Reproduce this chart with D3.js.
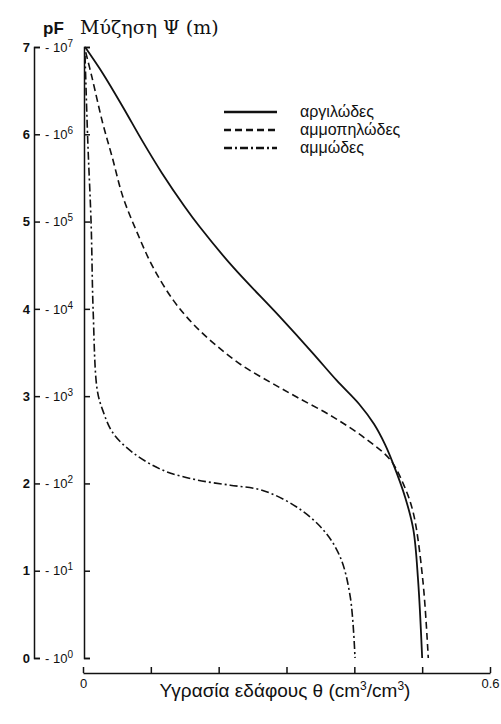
<!DOCTYPE html>
<html>
<head>
<meta charset="utf-8">
<script src="https://cdn.jsdelivr.net/npm/d3@7"></script>
<style>
  body { margin: 0; background: #fff; }
  svg { display: block; }
  .axis path, .axis line { stroke: #111; stroke-width: 1.5; }
  .axis text { font-family: "Liberation Sans", Arial, sans-serif; font-size: 13px; fill: #111; }
  .curve { fill: none; stroke: #111; }
</style>
</head>
<body>
<svg id="chart" width="501" height="724"></svg>
<script>
// [θ (cm3/cm3), pF]
const clay = [
  [0.003, 7.00], [0.029, 6.70], [0.059, 6.31], [0.087, 5.93], [0.116, 5.56],
  [0.150, 5.17], [0.172, 4.94], [0.221, 4.48], [0.290, 3.91], [0.339, 3.49],
  [0.374, 3.18], [0.407, 2.91], [0.429, 2.68], [0.445, 2.45], [0.457, 2.23],
  [0.475, 1.84], [0.487, 1.47], [0.494, 0.89], [0.500, 0.0]
];
const loam = [
  [0.004, 6.94], [0.013, 6.66], [0.029, 6.13], [0.043, 5.74], [0.059, 5.28],
  [0.080, 4.87], [0.103, 4.48], [0.133, 4.10], [0.162, 3.83], [0.195, 3.59],
  [0.233, 3.36], [0.276, 3.16], [0.315, 2.99], [0.369, 2.76], [0.417, 2.51],
  [0.453, 2.27], [0.473, 1.98], [0.487, 1.66], [0.501, 0.89], [0.509, 0.0]
];
const sand = [
  [0.003, 6.9], [0.007, 5.93], [0.012, 4.97], [0.015, 3.97], [0.021, 3.07],
  [0.029, 2.84], [0.044, 2.58], [0.074, 2.35], [0.118, 2.15], [0.168, 2.04],
  [0.217, 1.98], [0.265, 1.92], [0.315, 1.73], [0.354, 1.47], [0.379, 1.16],
  [0.394, 0.70], [0.401, 0.0]
];

const pfTicks = [0, 1, 2, 3, 4, 5, 6, 7];
const thetaTicks = [0, 0.1, 0.2, 0.3, 0.4, 0.5, 0.6];
const thetaLabels = ["0", "", "", "", "", "", "0.6"];
const series = [
  { name: "αργιλώδες", data: clay, dash: null, width: 1.8 },
  { name: "αμμοπηλώδες", data: loam, dash: "7,4", width: 1.6 },
  { name: "αμμώδες", data: sand, dash: "8,3,2,3", width: 1.6 }
];

const svg = d3.select("#chart");

const x = d3.scaleLinear().domain([0, 0.6]).range([83, 490]);
const y = d3.scaleLinear().domain([0, 7]).range([658, 47]);

// pF axis
const pfAxis = d3.axisLeft(y).tickValues(pfTicks).tickFormat(d3.format("d"))
  .tickSizeInner(-6).tickSizeOuter(-6).tickPadding(4);
svg.append("g")
  .attr("class", "axis axis-pf")
  .attr("transform", "translate(34,0)")
  .call(pfAxis)
  .call(g => g.selectAll(".tick text").attr("font-weight", "bold"));

// suction axis
const psiAxis = d3.axisLeft(y).tickValues(pfTicks).tickFormat(() => "")
  .tickSizeInner(-6).tickSizeOuter(-6).tickPadding(11);
svg.append("g")
  .attr("class", "axis axis-psi")
  .attr("transform", "translate(84,0)")
  .call(psiAxis)
  .call(g => g.selectAll(".tick text").each(function(d) {
    const t = d3.select(this);
    t.text("- 10");
    t.append("tspan").attr("dy", -5).attr("font-size", 10).text(d);
  }));

// theta axis
const thetaAxis = d3.axisBottom(x).tickValues(thetaTicks)
  .tickFormat((d, i) => thetaLabels[i])
  .tickSizeInner(-6).tickSizeOuter(0).tickPadding(6);
svg.append("g")
  .attr("class", "axis axis-theta")
  .attr("transform", "translate(0,673)")
  .call(thetaAxis);

// curves
const line = d3.line()
  .curve(d3.curveCatmullRom.alpha(0.5))
  .x(d => x(d[0]))
  .y(d => y(d[1]));

svg.append("g").selectAll("path")
  .data(series)
  .join("path")
  .attr("class", "curve")
  .attr("stroke-width", d => d.width)
  .attr("stroke-dasharray", d => d.dash)
  .attr("d", d => line(d.data));

// legend
const legend = svg.append("g").attr("transform", "translate(224,112)");
const rows = legend.selectAll("g").data(series).join("g")
  .attr("transform", (d, i) => `translate(0,${i * 18})`);
rows.append("line")
  .attr("x1", 0).attr("x2", 53)
  .attr("stroke", "#111")
  .attr("stroke-width", d => d.width + 0.8)
  .attr("stroke-dasharray", d => d.dash);
rows.append("text")
  .attr("x", 76).attr("dy", "0.3em")
  .attr("font-family", "'Liberation Sans', Arial, sans-serif")
  .attr("font-size", 16)
  .attr("fill", "#111")
  .text(d => d.name);

// titles
svg.append("text")
  .attr("x", 43).attr("y", 34)
  .attr("font-family", "'Liberation Sans', Arial, sans-serif")
  .attr("font-weight", "bold").attr("font-size", 17)
  .attr("fill", "#111")
  .text("pF");
svg.append("text")
  .attr("x", 80).attr("y", 34)
  .attr("font-family", "'DejaVu Serif', 'Liberation Serif', serif")
  .attr("font-size", 19)
  .attr("fill", "#111")
  .text("Μύζηση Ψ (m)");

const xt = svg.append("text")
  .attr("x", 285).attr("y", 697)
  .attr("text-anchor", "middle")
  .attr("font-family", "'Liberation Sans', Arial, sans-serif")
  .attr("font-size", 19)
  .attr("fill", "#111");
xt.append("tspan").text("Υγρασία εδάφους θ (cm");
xt.append("tspan").attr("dy", -7).attr("font-size", 12).text("3");
xt.append("tspan").attr("dy", 7).text("/cm");
xt.append("tspan").attr("dy", -7).attr("font-size", 12).text("3");
xt.append("tspan").attr("dy", 7).text(")");
</script>
</body>
</html>
